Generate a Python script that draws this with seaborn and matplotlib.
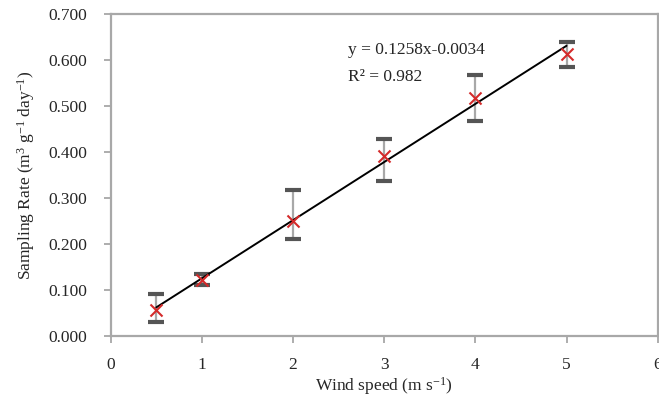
import numpy as np
import pandas as pd
import matplotlib
matplotlib.use("Agg")
import matplotlib.pyplot as plt
import seaborn as sns

wind_speed = [0.5, 1, 2, 3, 4, 5]
sampling_rate = [0.057, 0.122, 0.251, 0.391, 0.518, 0.614]
err_upper = [0.091, 0.135, 0.317, 0.428, 0.567, 0.640]
err_lower = [0.031, 0.110, 0.210, 0.337, 0.467, 0.585]
x_ticks = [0, 1, 2, 3, 4, 5, 6]
y_ticks = [0.0, 0.1, 0.2, 0.3, 0.4, 0.5, 0.6, 0.7]
eq_text = "y = 0.1258x-0.0034"
r2_text = "R\u00b2 = 0.982"

df = pd.DataFrame({"wind": wind_speed, "rate": sampling_rate,
                   "hi": err_upper, "lo": err_lower})

sns.set_theme(style="white")
plt.rcParams["font.family"] = ["Liberation Serif", "DejaVu Serif"]
plt.rcParams["mathtext.fontset"] = "custom"
plt.rcParams["mathtext.rm"] = "Liberation Serif"
plt.rcParams["mathtext.default"] = "rm"

fig = plt.figure(figsize=(6.59, 3.97), dpi=100)
ax = fig.add_axes([0.168, 0.1537, 0.830, 0.811])

# error bars
yerr = np.array([df["rate"] - df["lo"], df["hi"] - df["rate"]])
line, caps, bars = ax.errorbar(df["wind"], df["rate"], yerr=yerr, fmt="none",
                               ecolor="#a8a8a8", elinewidth=1.6, capsize=5.5,
                               capthick=3.0, zorder=2)
for c in caps:
    c.set_markeredgecolor("#555555")
    c.set_color("#555555")

# trend line
sns.regplot(data=df, x="wind", y="rate", ci=None, scatter=False, truncate=True,
            line_kws={"color": "black", "linewidth": 1.4, "zorder": 3}, ax=ax)

# markers
sns.scatterplot(data=df, x="wind", y="rate", marker="x", s=75, color="#d42a2a",
                linewidth=1.5, zorder=4, ax=ax, legend=False)

ax.text(2.60, 0.622, eq_text, fontsize=12.5, va="center", ha="left")
ax.text(2.60, 0.563, r2_text, fontsize=12.5, va="center", ha="left")

ax.set_xlim(0, 6)
ax.set_ylim(0, 0.7)
ax.set_xticks(x_ticks)
ax.set_yticks(y_ticks)
ax.set_xticklabels([str(t) for t in x_ticks])
ax.set_yticklabels([f"{t:.3f}" for t in y_ticks])
ax.tick_params(axis="both", which="major", direction="out", length=5, width=1.2,
               color="#a0a0a0", labelsize=12.5, left=True, bottom=True)
ax.tick_params(axis="y", pad=12)
ax.tick_params(axis="x", pad=10)

for s in ax.spines.values():
    s.set_color("#a8a8a8")
    s.set_linewidth(1.6)
    s.set_visible(True)

ax.set_xlabel(r"Wind speed (m s$^{-1}$)", fontsize=12.5, labelpad=2)
ax.set_ylabel(r"Sampling Rate (m$^{3}$ g$^{-1}$ day$^{-1}$)",
              fontsize=12.5, labelpad=8)

fig.savefig("out.png", dpi=100, facecolor="white")
